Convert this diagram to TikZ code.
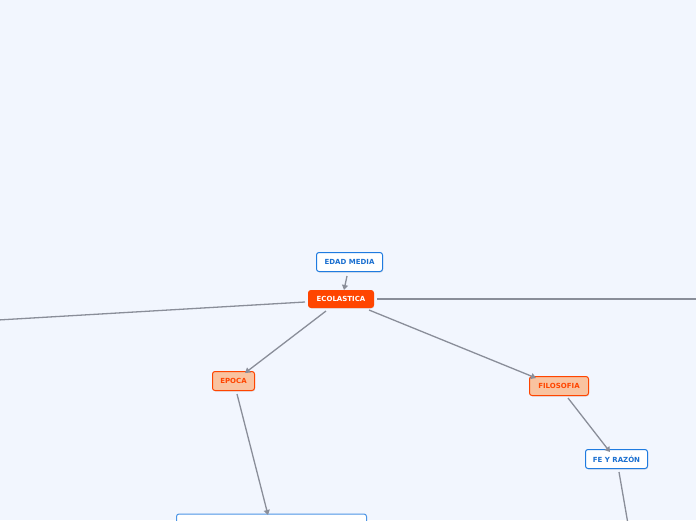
\documentclass[tikz,border=0pt]{standalone}
\usepackage{fontspec}
\setmainfont{DejaVu Sans}
\usetikzlibrary{shadows,arrows.meta}
\definecolor{bg}{HTML}{F2F6FE}
\definecolor{bluec}{HTML}{1F7BE0}
\definecolor{bluet}{HTML}{1A6FD0}
\definecolor{orc}{HTML}{FF4500}
\definecolor{peach}{HTML}{F9C3A0}
\definecolor{linec}{HTML}{8A8E99}
\tikzset{
  base/.style={rounded corners=2.5pt, font=\fontsize{7}{8}\selectfont\bfseries, inner sep=0pt, line width=1pt,
    drop shadow={opacity=0.2, shadow xshift=0.7pt, shadow yshift=-1pt}},
  bluebox/.style={base, draw=bluec, fill=white, text=bluet},
  mainbox/.style={base, draw=orc, fill=orc, text=white},
  subbox/.style={base, draw=orc, fill=peach, text=orc},
  conn/.style={draw=linec, line width=1.3pt},
  arr/.style={conn, -{Triangle[width=6pt,length=5pt]}},
}
\begin{document}
\begin{tikzpicture}[x=1pt,y=-1pt]
\useasboundingbox[fill=bg] (0,0) rectangle (696,520);
\node[bluebox, minimum width=66pt, minimum height=19pt] (edad) at (349.5,262) {EDAD MEDIA};
\node[mainbox, minimum width=65pt, minimum height=17pt] (eco) at (341,299) {ECOLASTICA};
\node[subbox, minimum width=42pt, minimum height=19pt] (epoca) at (233.5,381) {EPOCA};
\node[subbox, minimum width=59pt, minimum height=19pt] (filo) at (559,386) {FILOSOFIA};
\node[bluebox, minimum width=62pt, minimum height=19pt] (fe) at (616.5,459) {FE Y RAZÓN};
\node[bluebox, draw=bluec!80, minimum width=190pt, minimum height=24pt] (bottom) at (271.5,526) {};
\coordinate (leftend) at (-2,320);
\coordinate (rightend) at (698,299);
\coordinate (downend) at (628,524);
\draw[arr] (347,276) -- (344,290);
\draw[conn] (305,302) -- (leftend);
\draw[conn] (377,299) -- (rightend);
\draw[arr] (326,311) -- (245,373);
\draw[arr] (369,310) -- (536,378);
\draw[arr] (237,394) -- (268,515);
\draw[arr] (568,398) -- (610,452);
\draw[conn] (619,472) -- (downend);
\end{tikzpicture}
\end{document}
